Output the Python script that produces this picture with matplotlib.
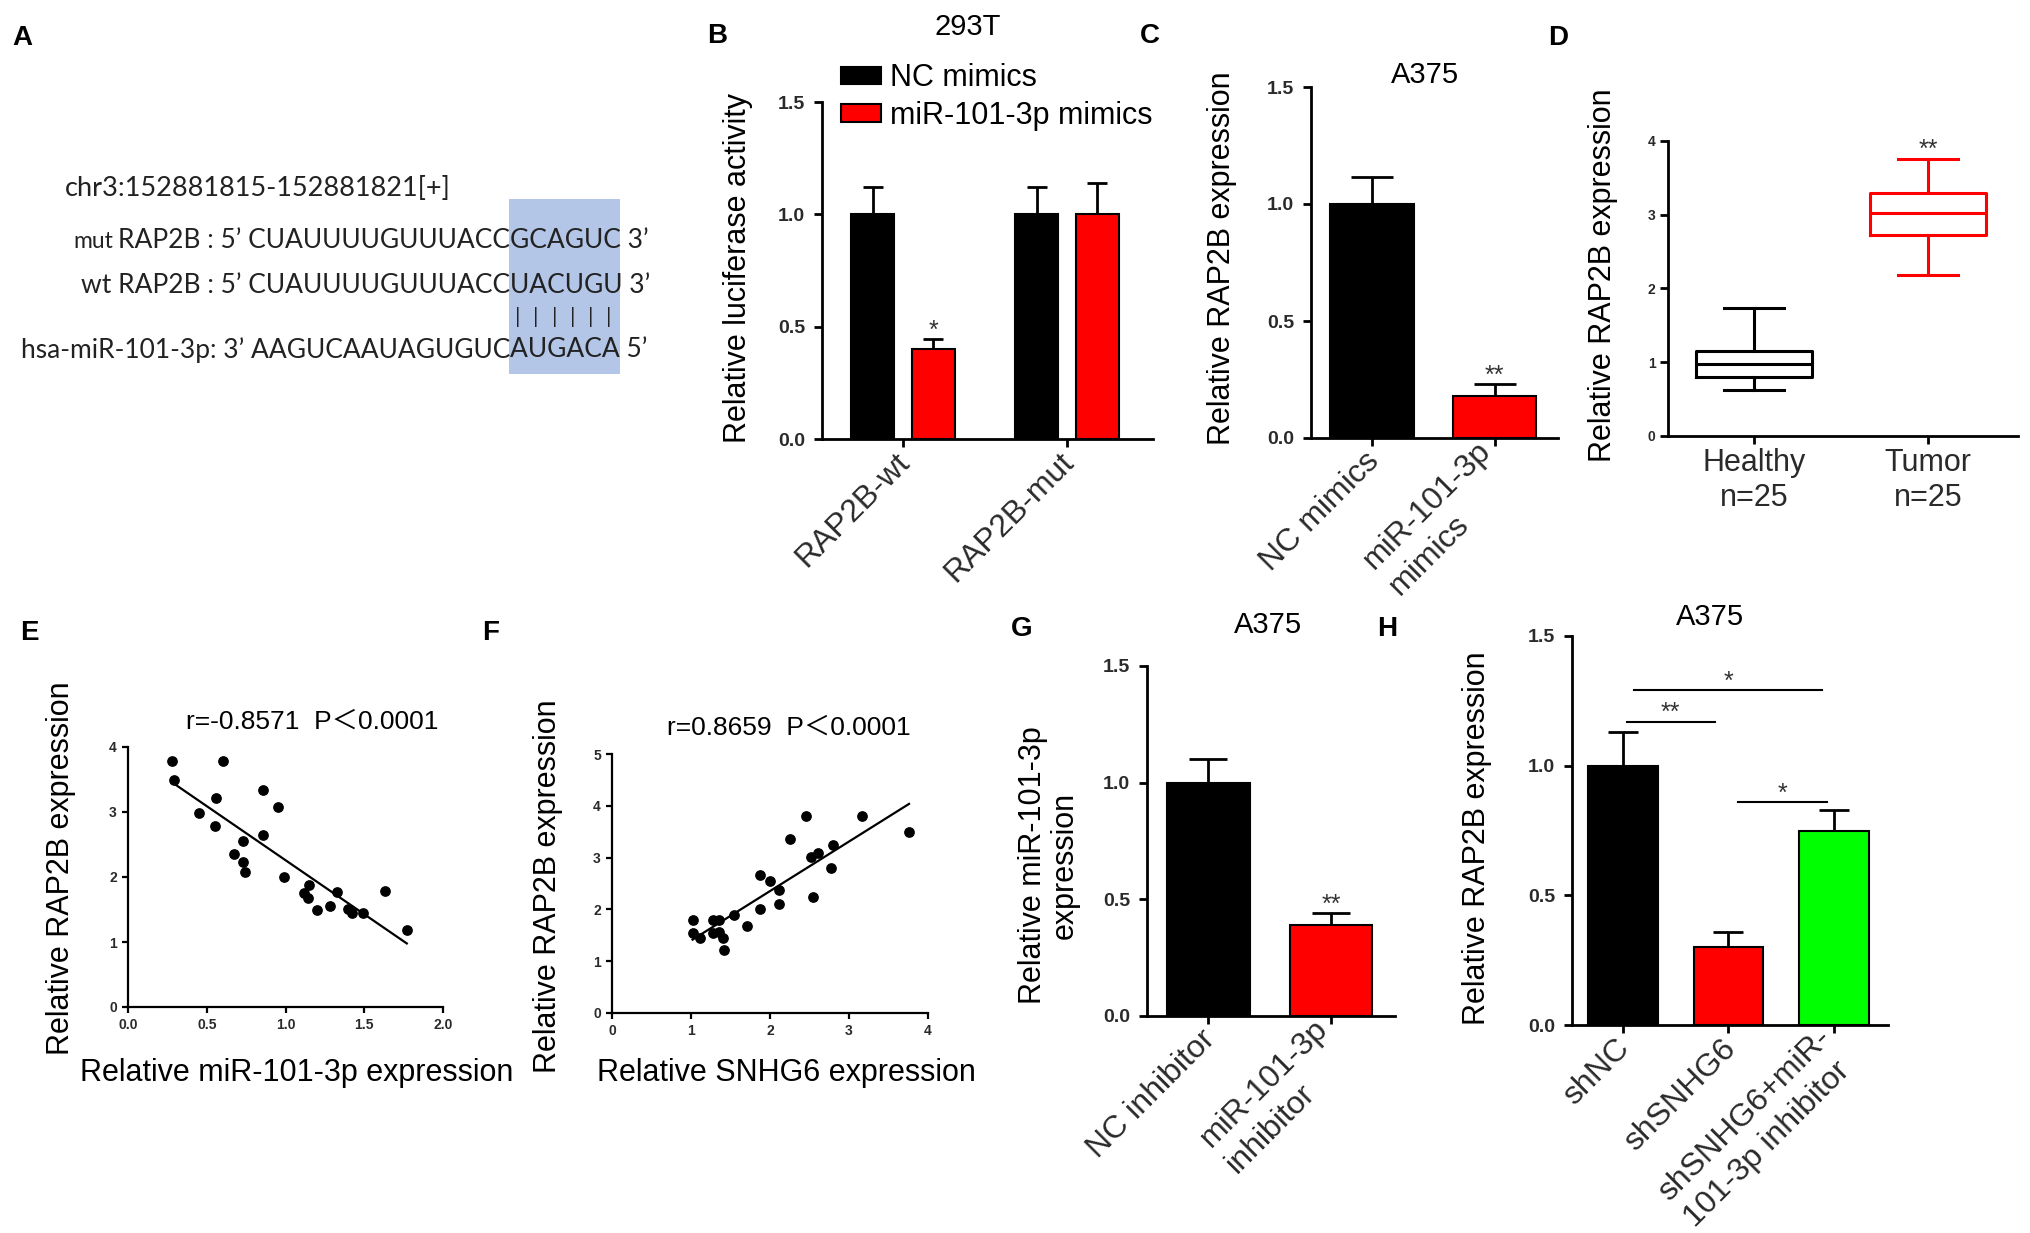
import numpy as np
import matplotlib
matplotlib.use('Agg')
import matplotlib.pyplot as plt
from matplotlib.patches import Rectangle

plt.rcParams['font.family'] = ['Liberation Sans', 'DejaVu Sans']

W, H = 2031, 1233

# ---- panel A: sequences ----
seq_header = 'chr3:152881815-152881821[+]'
seq_prefix = ['mut', '', '']
seq_heads = ['RAP2B : 5’ CUAUUUUGUUUACC',
             'wt RAP2B : 5’ CUAUUUUGUUUACC',
             'hsa-miR-101-3p: 3’ AAGUCAAUAGUGUC']
seq_sites = ['GCAGUC 3’', 'UACUGU 3’', 'AUGACA 5’']

# ---- panel B ----
b_groups = ['RAP2B-wt', 'RAP2B-mut']
b_series = ['NC mimics', 'miR-101-3p mimics']
b_nc_mean = [1.0, 1.0]
b_nc_err = [0.12, 0.12]
b_mir_mean = [0.40, 1.0]
b_mir_err = [0.045, 0.14]

# ---- panel C ----
c_groups = ['NC mimics', 'miR-101-3p\nmimics']
c_mean = [1.0, 0.18]
c_err = [0.115, 0.05]

# ---- panel D ----
d_groups = ['Healthy\nn=25', 'Tumor\nn=25']
d_whislo = [0.62, 2.18]
d_q1 = [0.80, 2.72]
d_med = [0.97, 3.02]
d_q3 = [1.15, 3.30]
d_whishi = [1.74, 3.76]

# ---- panel E ----
e_x = [0.28, 0.29, 0.60, 0.56, 0.45, 0.55, 0.86, 0.95, 0.86, 0.73, 0.67, 0.73, 0.74,
       0.99, 1.15, 1.12, 1.14, 1.20, 1.28, 1.33, 1.40, 1.42, 1.49, 1.63, 1.77]
e_y = [3.78, 3.49, 3.78, 3.22, 2.99, 2.78, 3.34, 3.08, 2.65, 2.55, 2.35, 2.23, 2.08,
       2.00, 1.87, 1.76, 1.67, 1.49, 1.56, 1.77, 1.51, 1.44, 1.44, 1.79, 1.19]

# ---- panel F ----
f_x = [1.02, 1.02, 1.11, 1.28, 1.36, 1.28, 1.36, 1.40, 1.42, 1.55, 1.71, 1.87, 1.87,
       2.00, 2.12, 2.12, 2.25, 2.46, 2.52, 2.55, 2.61, 2.80, 2.77, 3.17, 3.76]
f_y = [1.80, 1.54, 1.45, 1.79, 1.79, 1.54, 1.57, 1.45, 1.21, 1.90, 1.67, 2.01, 2.67,
       2.55, 2.38, 2.11, 3.35, 3.80, 3.01, 2.23, 3.08, 3.25, 2.80, 3.80, 3.50]

# ---- panel G ----
g_groups = ['NC inhibitor', 'miR-101-3p\ninhibitor']
g_mean = [1.0, 0.39]
g_err = [0.10, 0.05]

# ---- panel H ----
h_groups = ['shNC', 'shSNHG6', 'shSNHG6+miR-\n101-3p inhibitor']
h_mean = [1.0, 0.30, 0.75]
h_err = [0.13, 0.06, 0.08]
h_colors = ['#000000', '#ff0000', '#00ff00']
# (from, to, height, mark)
h_sig = [(0.04, 0.87, 1.17, '**'), (0.11, 1.89, 1.29, '*'), (1.09, 1.93, 0.86, '*')]

RED = '#ff0000'
TICKC = '#2a2a2a'

fig = plt.figure(figsize=(W / 100, H / 100), dpi=100)


def px_axes(left, top, right, bottom):
    ax = fig.add_axes([left / W, 1 - bottom / H, (right - left) / W, (bottom - top) / H])
    ax.px = (left, top, right, bottom)
    return ax


def ftext(x, y, s, **kw):
    return fig.text(x / W, 1 - y / H, s, **kw)


def prism(ax, lw=2.0, tlen=6, tsize=14, pad=4):
    for s in ['top', 'right']:
        ax.spines[s].set_visible(False)
    for s in ['left', 'bottom']:
        ax.spines[s].set_linewidth(lw)
    ax.tick_params(direction='out', length=tlen, width=lw, color='black',
                   labelcolor=TICKC, pad=pad)
    for lab in ax.get_yticklabels():
        lab.set_fontsize(tsize)
        lab.set_fontweight('bold')


def ylabel_at(ax, text, cx, cy, size=22, **kw):
    l, t, r, b = ax.px
    ax.set_ylabel(text, fontsize=size, va='center', **kw)
    ax.yaxis.set_label_coords((cx - l) / (r - l), (b - cy) / (b - t))


def xlabel_at(ax, text, cx, cy, size=22):
    l, t, r, b = ax.px
    ax.set_xlabel(text, fontsize=size, va='center')
    ax.xaxis.set_label_coords((cx - l) / (r - l), (b - cy) / (b - t))


def star(ax, x, y, s, size=18):
    ax.annotate(s, (x, y), xytext=(0, 1), textcoords='offset points',
                ha='center', va='baseline', fontsize=size, color='#333333',
                annotation_clip=False)


def err_up(ax, x, mean, err, capsize):
    ax.errorbar(x, mean, yerr=[np.zeros(len(mean)), err], fmt='none', ecolor='black',
                elinewidth=2, capsize=capsize, capthick=2, zorder=1)


def rot_labels(ax, labels, size=23):
    ax.set_xticklabels(labels, rotation=45, ha='right', va='center_baseline',
                       rotation_mode='anchor', multialignment='left', fontsize=size,
                       color='black', linespacing=1.3)
    ax.tick_params(axis='x', pad=3)


# panel letters
for letter, (lx, ly) in zip('ABCDEFGH', [(22, 38), (717, 36), (1150, 36), (1558, 38),
                                         (29, 633), (491, 633), (1022, 629), (1387, 629)]):
    ftext(lx, ly, letter, fontsize=20, fontweight='bold', ha='center', va='center')

# ---- A ----
seq_font = dict(family=['Lato', 'DejaVu Sans'], color='#222222', va='center')
box_l, box_t, box_r, box_b = 509, 199, 620, 374
fig.add_artist(Rectangle((box_l / W, 1 - box_b / H), (box_r - box_l) / W, (box_b - box_t) / H,
                         transform=fig.transFigure, facecolor='#b4c6e7', edgecolor='none',
                         zorder=0))
ftext(65, 188, seq_header, ha='left', fontsize=19.5, **seq_font)
renderer = fig.canvas.get_renderer()
for yy, pre, head, site in zip([240, 285, 350], seq_prefix, seq_heads, seq_sites):
    t = ftext(box_l + 1, yy, head, ha='right', fontsize=19, **seq_font)
    ftext(box_l + 1, yy, site, ha='left', fontsize=19, **seq_font)
    if pre:
        bb = t.get_window_extent(renderer=renderer)
        ftext(bb.x0 - 5, yy + 1, pre, ha='right', fontsize=16.5, **seq_font)
for bx in np.linspace(518, 609, 6):
    ftext(bx, 317, '|', ha='center', fontsize=16, **seq_font)

# ---- B ----
ax = px_axes(822, 102, 1153, 439)
x = np.arange(len(b_groups))
ax.bar(x - 0.185, b_nc_mean, 0.265, color='black', edgecolor='black', lw=1.5,
       label=b_series[0], zorder=2)
ax.bar(x + 0.185, b_mir_mean, 0.265, color=RED, edgecolor='black', lw=1.5,
       label=b_series[1], zorder=2)
err_up(ax, x - 0.185, b_nc_mean, b_nc_err, 7.5)
err_up(ax, x + 0.185, b_mir_mean, b_mir_err, 7.5)
star(ax, x[0] + 0.185, b_mir_mean[0] + b_mir_err[0], '*')
ax.set_xlim(-0.494, 1.524)
ax.set_ylim(0, 1.5)
ax.set_yticks([0, 0.5, 1.0, 1.5])
ax.set_yticklabels(['0.0', '0.5', '1.0', '1.5'])
ax.set_xticks(x)
rot_labels(ax, b_groups)
prism(ax, pad=6)
ylabel_at(ax, 'Relative luciferase activity', 738, 268)
ax.legend(loc='center left', bbox_to_anchor=(841 / W, 1 - 97 / H), bbox_transform=fig.transFigure,
          frameon=False, fontsize=22, handlelength=1.3, handleheight=0.5, handletextpad=0.3,
          labelspacing=0.25, borderpad=0, borderaxespad=0)
ftext(968, 27, '293T', fontsize=21, ha='center', va='center')

# ---- C ----
ax = px_axes(1311, 87, 1558, 438)
x = np.arange(len(c_groups))
ax.bar(x, c_mean, 0.68, color=['black', RED], edgecolor='black', lw=1.5, zorder=2)
err_up(ax, x, c_mean, c_err, 15)
star(ax, x[1], c_mean[1] + c_err[1], '**')
ax.set_xlim(-0.498, 1.518)
ax.set_ylim(0, 1.5)
ax.set_yticks([0, 0.5, 1.0, 1.5])
ax.set_yticklabels(['0.0', '0.5', '1.0', '1.5'])
ax.set_xticks(x)
rot_labels(ax, c_groups)
prism(ax, pad=6)
ylabel_at(ax, 'Relative RAP2B expression', 1222, 258)
ftext(1425, 75, 'A375', fontsize=21, ha='center', va='center')

# ---- D ----
ax = px_axes(1668, 141, 2018, 436)
for i, col in enumerate(['black', RED]):
    stats = [dict(whislo=d_whislo[i], q1=d_q1[i], med=d_med[i], q3=d_q3[i],
                  whishi=d_whishi[i], fliers=[])]
    props = dict(color=col, linewidth=2.2)
    ax.bxp(stats, positions=[i], widths=0.67, capwidths=0.34, showfliers=False,
           manage_ticks=False, boxprops=props, medianprops=props, whiskerprops=props,
           capprops=props)
star(ax, 1, d_whishi[1], '**')
ax.set_xlim(-0.494, 1.517)
ax.set_ylim(0, 4)
ax.set_yticks([0, 1, 2, 3, 4])
ax.set_xticks([0, 1])
ax.set_xticklabels(d_groups, fontsize=22, linespacing=1.2, color='black')
prism(ax, tsize=10, pad=3)
ylabel_at(ax, 'Relative RAP2B expression', 1603, 275)

# ---- E ----
ax = px_axes(128, 747, 443, 1007)
ax.scatter(e_x, e_y, s=45, color='black', zorder=3, clip_on=False)
k, b0 = np.polyfit(e_x, e_y, 1)
xx = np.array([min(e_x), max(e_x)])
ax.plot(xx, k * xx + b0, color='black', lw=1.6)
ax.set_xlim(0, 2)
ax.set_ylim(0, 4)
ax.set_xticks([0, 0.5, 1.0, 1.5, 2.0])
ax.set_xticklabels(['0.0', '0.5', '1.0', '1.5', '2.0'])
ax.set_yticks([0, 1, 2, 3, 4])
prism(ax, lw=1.6, tlen=4, tsize=10, pad=4)
for lab in ax.get_xticklabels():
    lab.set_fontsize(10)
    lab.set_fontweight('bold')
ylabel_at(ax, 'Relative RAP2B expression', 61, 868)
xlabel_at(ax, 'Relative miR-101-3p expression', 297, 1073)
ftext(312, 722, 'r=-0.8571  P＜0.0001', fontsize=19, ha='center', va='center',
      family=['Liberation Sans', 'Noto Sans CJK SC'])

# ---- F ----
ax = px_axes(612, 754, 928, 1013)
ax.scatter(f_x, f_y, s=45, color='black', zorder=3, clip_on=False)
k, b0 = np.polyfit(f_x, f_y, 1)
xx = np.array([min(f_x), max(f_x)])
ax.plot(xx, k * xx + b0, color='black', lw=1.6)
ax.set_xlim(0, 4)
ax.set_ylim(0, 5)
ax.set_xticks([0, 1, 2, 3, 4])
ax.set_yticks([0, 1, 2, 3, 4, 5])
prism(ax, lw=1.6, tlen=4, tsize=10, pad=4)
for lab in ax.get_xticklabels():
    lab.set_fontsize(10)
    lab.set_fontweight('bold')
ylabel_at(ax, 'Relative RAP2B expression', 548, 886)
xlabel_at(ax, 'Relative SNHG6 expression', 786, 1073)
ftext(789, 728, 'r=0.8659  P＜0.0001', fontsize=19, ha='center', va='center',
      family=['Liberation Sans', 'Noto Sans CJK SC'])

# ---- G ----
ax = px_axes(1147, 666, 1395, 1016)
x = np.arange(len(g_groups))
ax.bar(x, g_mean, 0.67, color=['black', RED], edgecolor='black', lw=1.5, zorder=2)
err_up(ax, x, g_mean, g_err, 13.5)
star(ax, x[1], g_mean[1] + g_err[1], '**')
ax.set_xlim(-0.5, 1.52)
ax.set_ylim(0, 1.5)
ax.set_yticks([0, 0.5, 1.0, 1.5])
ax.set_yticklabels(['0.0', '0.5', '1.0', '1.5'])
ax.set_xticks(x)
rot_labels(ax, g_groups)
prism(ax, pad=6)
ylabel_at(ax, 'Relative miR-101-3p\nexpression', 1049, 865, linespacing=1.1)
ftext(1268, 625, 'A375', fontsize=21, ha='center', va='center')

# ---- H ----
ax = px_axes(1572, 636, 1888, 1025)
x = np.arange(len(h_groups))
ax.bar(x, h_mean, 0.66, color=h_colors, edgecolor='black', lw=1.5, zorder=2)
err_up(ax, x, h_mean, h_err, 10.5)
for x0, x1, yy, mark in h_sig:
    ax.plot([x0, x1], [yy, yy], color='black', lw=1.5, clip_on=False)
    star(ax, (x0 + x1) / 2, yy, mark)
ax.set_xlim(-0.48, 2.51)
ax.set_ylim(0, 1.5)
ax.set_yticks([0, 0.5, 1.0, 1.5])
ax.set_yticklabels(['0.0', '0.5', '1.0', '1.5'])
ax.set_xticks(x)
rot_labels(ax, h_groups)
prism(ax, pad=6)
ylabel_at(ax, 'Relative RAP2B expression', 1477, 838)
ftext(1710, 617, 'A375', fontsize=21, ha='center', va='center')

fig.savefig('out.png', dpi=100, facecolor='white')
